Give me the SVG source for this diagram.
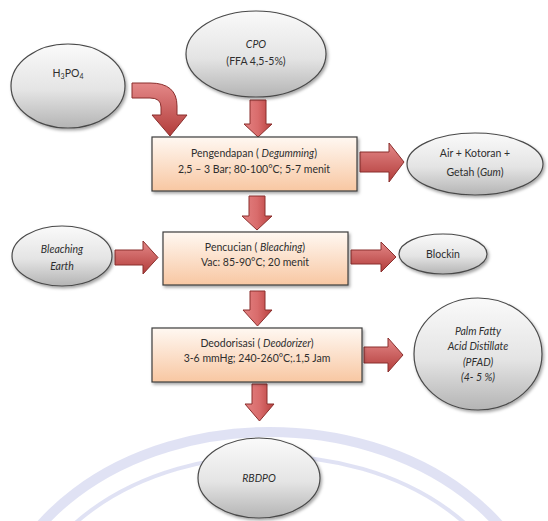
<svg xmlns="http://www.w3.org/2000/svg" width="548" height="521" viewBox="0 0 548 521">
<defs>
<linearGradient id="gBox" x1="0" y1="0" x2="0" y2="1"><stop offset="0" stop-color="#fff8f2"/><stop offset="1" stop-color="#f8c7a2"/></linearGradient>
<linearGradient id="gEll" x1="0" y1="0" x2="0" y2="1"><stop offset="0" stop-color="#fafafa"/><stop offset="0.55" stop-color="#e4e4e4"/><stop offset="1" stop-color="#b4b4b4"/></linearGradient>
<linearGradient id="gArrV" x1="0" y1="0" x2="1" y2="0"><stop offset="0" stop-color="#e38282"/><stop offset="0.5" stop-color="#d96c6c"/><stop offset="1" stop-color="#b8403e"/></linearGradient>
<linearGradient id="gArrH" x1="0" y1="0" x2="0" y2="1"><stop offset="0" stop-color="#e48888"/><stop offset="1" stop-color="#b23c3a"/></linearGradient>
<filter id="sh" x="-20%" y="-20%" width="140%" height="150%"><feDropShadow dx="1.5" dy="2" stdDeviation="1.5" flood-color="#000" flood-opacity="0.35"/></filter>
</defs>
<style>
.box{fill:url(#gBox);stroke:#3c3c3c;stroke-width:1.2;filter:url(#sh)}
.ell{fill:url(#gEll);stroke:#4a4a4a;stroke-width:1.2;filter:url(#sh)}
.av{fill:url(#gArrV);stroke:#8a2f2d;stroke-width:1}
.ah{fill:url(#gArrH);stroke:#8a2f2d;stroke-width:1}
text{font-family:Lato,"Open Sans","Liberation Sans",sans-serif;font-size:10.5px;fill:#2e2e2e;text-anchor:middle}
.i{font-style:italic}
.wm{fill:none;stroke:#d6d8f0;stroke-opacity:0.75}
</style>
<rect width="548" height="521" fill="#fff"/>
<g id="watermark">
<ellipse class="wm" cx="270" cy="640" rx="275" ry="208" stroke-width="10"/>
<ellipse class="wm" cx="270" cy="640" rx="252" ry="184" stroke-width="4"/>
</g>
<g id="connectors">
<path class="ah" d="M132,83 L150,83 Q177,83 177,106 L177,115 L187,115 L170,136 L152,115 L161,115 L161,107 Q161,98 150,98 L132,98 Z"/>
<path class="av" d="M250,100 L266,100 L266,124 L272,124 L258,137 L244,124 L250,124 Z"/>
<path class="av" d="M249,196 L265,196 L265,216 L272,216 L257,230 L242,216 L249,216 Z"/>
<path class="av" d="M250,291 L265,291 L265,310 L272,310 L257.5,326 L243,310 L250,310 Z"/>
<path class="av" d="M252,384 L267,384 L267,404 L274,404 L259.5,421 L245,404 L252,404 Z"/>
<path class="ah" d="M360,152 L389,152 L389,143 L404,162 L389,182 L389,172 L360,172 Z"/>
<path class="ah" d="M115,250 L143,250 L143,241 L158,257.5 L143,274 L143,265 L115,265 Z"/>
<path class="ah" d="M351,250 L381,250 L381,242 L396,257 L381,272 L381,264 L351,264 Z"/>
<path class="ah" d="M364,347 L388,347 L388,338 L403,355 L388,372 L388,363 L364,363 Z"/>
</g>
<g id="h3po4">
<ellipse class="ell" cx="68" cy="86" rx="57" ry="42"/>
<text x="68" y="77">H<tspan font-size="7" dy="2">3</tspan><tspan dy="-2">PO</tspan><tspan font-size="7" dy="2">4</tspan></text>
</g>
<g id="cpo">
<ellipse class="ell" cx="256" cy="54" rx="70" ry="43"/>
<text x="256" y="48" class="i">CPO</text>
<text x="256" y="65">(FFA 4,5-5%)</text>
</g>
<g id="pengendapan">
<rect class="box" x="152" y="137" width="205" height="54"/>
<text x="254" y="157">Pengendapan ( <tspan class="i">Degumming</tspan>)</text>
<text x="254" y="173">2,5 – 3 Bar; 80-100°C; 5-7 menit</text>
</g>
<g id="air">
<ellipse class="ell" cx="475" cy="164" rx="68" ry="31"/>
<text x="475" y="157">Air + Kotoran +</text>
<text x="475" y="176">Getah (<tspan class="i">Gum</tspan>)</text>
</g>
<g id="bleaching-earth">
<ellipse class="ell" cx="62" cy="256" rx="50" ry="30"/>
<text x="62" y="253" class="i">Bleaching</text>
<text x="62" y="270" class="i">Earth</text>
</g>
<g id="pencucian">
<rect class="box" x="163" y="232" width="185" height="53"/>
<text x="255" y="251">Pencucian ( <tspan class="i">Bleaching</tspan>)</text>
<text x="255" y="266">Vac: 85-90°C; 20 menit</text>
</g>
<g id="blockin">
<ellipse class="ell" cx="443" cy="254" rx="44" ry="20"/>
<text x="443" y="258">Blockin</text>
</g>
<g id="deodorisasi">
<rect class="box" x="152" y="328" width="210" height="54"/>
<text x="257" y="347">Deodorisasi ( <tspan class="i">Deodorizer</tspan>)</text>
<text x="257" y="362">3-6 mmHg; 240-260°C;.1,5 Jam</text>
</g>
<g id="pfad">
<ellipse class="ell" cx="478" cy="354" rx="64" ry="56"/>
<text x="478" y="335" class="i">Palm Fatty</text>
<text x="478" y="350" class="i">Acid Distillate</text>
<text x="478" y="366" class="i">(PFAD)</text>
<text x="478" y="381" class="i">(4- 5 %)</text>
</g>
<g id="rbdpo">
<ellipse class="ell" cx="259" cy="478" rx="61" ry="40"/>
<text x="259" y="482" class="i">RBDPO</text>
</g>
</svg>
